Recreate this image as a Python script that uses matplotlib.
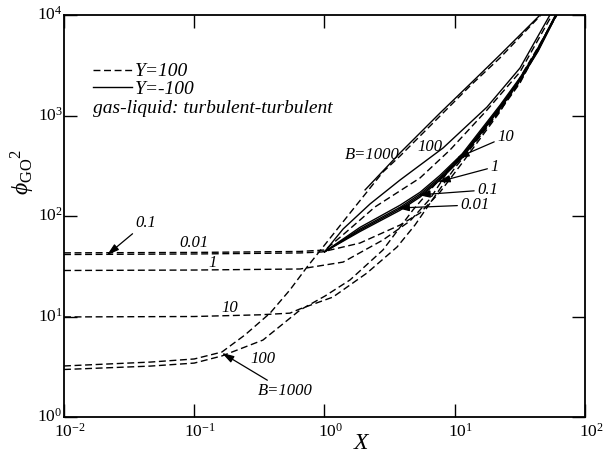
import matplotlib
matplotlib.use('Agg')
import matplotlib.pyplot as plt
import matplotlib.transforms as mtrans

plt.rcParams['font.family'] = 'Liberation Serif'
plt.rcParams['mathtext.fontset'] = 'custom'
plt.rcParams['mathtext.rm'] = 'Liberation Serif'
plt.rcParams['mathtext.it'] = 'Liberation Serif:italic'

# Y = 100 (dashed curves), one per B
x_d001 = [0.01, 0.1, 0.649, 1.01, 1.44, 2.44, 5.41, 9.20, 17.7, 31.7, 55.8]
phi_d001 = [43.0, 43.4, 44.4, 45.9, 67.8, 123, 239, 454, 1135, 2710, 10000]

x_d01 = [0.01, 0.1, 0.649, 0.957, 1.87, 3.80, 5.41, 7.71, 11.4, 22.2, 61.0]
phi_d01 = [41.4, 41.9, 42.9, 43.9, 53.8, 81.3, 107, 173, 337, 1084, 10000]

x_d1 = [0.01, 0.1, 0.649, 1.39, 2.81, 4.53, 6.46, 9.20, 13.1, 22.2, 31.7, 59.9]
phi_d1 = [28.7, 29.0, 29.7, 34.8, 57.7, 89.1, 148, 300, 497, 1161, 2205, 10000]

x_d10 = [0.01, 0.1, 0.320, 0.543, 0.649, 1.16, 2.12, 3.61, 4.95, 7.05, 10.0, 14.3, 22.2, 31.7, 59.9]
phi_d10 = [9.9, 10.0, 10.4, 10.8, 11.9, 15.6, 27.1, 49.2, 81.3, 158, 300, 532, 1135, 2155, 10000]

x_d100 = [0.01, 0.046, 0.1, 0.163, 0.337, 0.649, 1.01, 1.57, 2.81, 4.78, 6.69, 9.53, 14.3, 22.2, 31.7, 59.9]
phi_d100 = [2.97, 3.21, 3.44, 4.05, 5.83, 11.6, 16.0, 23.1, 45.9, 115, 190, 321, 545, 1109, 2106, 10000]

x_d1000 = [0.01, 0.046, 0.1, 0.163, 0.245, 0.382, 0.543, 0.735, 0.975, 1.57, 2.81, 3.80, 7.71, 13.1, 22.2, 45.9]
phi_d1000 = [3.22, 3.52, 3.78, 4.43, 6.55, 10.8, 18.4, 31.1, 49.2, 107, 274, 395, 989, 1968, 3733, 10000]

# Y = -100 (solid curves)
x_bundle = [1.0, 1.87, 3.80, 5.41, 7.71, 11.4, 15.6, 22.2, 31.7, 43.6, 60.0]
phi_s001 = [44, 70, 114, 154, 228, 378, 640, 1170, 2230, 4350, 9800]
phi_s01 = [44, 72, 118, 159, 235, 388, 658, 1195, 2270, 4420, 9900]
phi_s1 = [44, 74, 122, 165, 243, 400, 675, 1225, 2320, 4500, 10100]
phi_s10 = [44, 77, 128, 172, 254, 415, 700, 1260, 2380, 4600, 10300]

x_s100 = [1.0, 1.39, 2.24, 3.80, 8.13, 17.7, 31.7, 53.8]
phi_s100 = [44, 74.3, 132, 228, 475, 1215, 2970, 10000]

x_s1000 = [2.05, 3.80, 7.71, 13.1, 22.2, 45.2]
phi_s1000 = [182, 424, 1059, 2056, 4000, 10000]

xticks = [1e-2, 1e-1, 1e0, 1e1, 1e2]
yticks = [1e0, 1e1, 1e2, 1e3, 1e4]

fig = plt.figure(figsize=(6.13, 4.55), dpi=100)
ax = fig.add_axes([0.1044, 0.0835, 0.8499, 0.8835])

dash = dict(color='k', lw=1.0, ls=(0, (5, 2.6)))
solid = dict(color='k', lw=1.0)

h_dash, = ax.plot(x_d001, phi_d001, **dash)
ax.plot(x_d01, phi_d01, **dash)
ax.plot(x_d1, phi_d1, **dash)
ax.plot(x_d10, phi_d10, **dash)
ax.plot(x_d100, phi_d100, **dash)
ax.plot(x_d1000, phi_d1000, **dash)

h_solid, = ax.plot(x_bundle, phi_s001, **solid)
ax.plot(x_bundle, phi_s01, **solid)
ax.plot(x_bundle, phi_s1, **solid)
ax.plot(x_bundle, phi_s10, **solid)
ax.plot(x_s100, phi_s100, **solid)
ax.plot(x_s1000, phi_s1000, **solid)

ax.set_xscale('log')
ax.set_yscale('log')
ax.set_xlim(1e-2, 1e2)
ax.set_ylim(1e0, 1e4)
ax.set_xticks(xticks)
ax.set_yticks(yticks)
ax.xaxis.set_minor_locator(matplotlib.ticker.NullLocator())
ax.yaxis.set_minor_locator(matplotlib.ticker.NullLocator())
ax.tick_params(which='major', direction='in', length=9.5, width=1.0,
               top=True, right=True, labelsize=12.5)
ax.tick_params(axis='x', pad=4)
ax.tick_params(axis='y', pad=1)
for s in ax.spines.values():
    s.set_linewidth(1.3)

# keep the "10" of each x label over its tick, exponent hanging right
shift_x = mtrans.ScaledTranslation(6 / 100, 0, fig.dpi_scale_trans)
for lab in ax.get_xticklabels():
    lab.set_transform(lab.get_transform() + shift_x)
shift_y = mtrans.ScaledTranslation(0, 2 / 100, fig.dpi_scale_trans)
for lab in ax.get_yticklabels():
    lab.set_transform(lab.get_transform() + shift_y)

ax.set_xlabel('$\\it{X}$', fontsize=17)
ax.xaxis.set_label_coords(0.572, -0.04)
ax.set_ylabel('$\\phi_{\\mathrm{GO}}{}^{2}$', fontsize=17)
ax.yaxis.set_label_coords(-0.052, 0.61)

tfont = dict(family='Liberation Serif', style='italic', size=12)
arr = dict(arrowstyle='-|>,head_length=0.6,head_width=0.18', lw=0.9,
           color='k', shrinkA=0, shrinkB=0)

# left side labels
ax.annotate('0.1', xy=(0.0214, 40.9), xytext=(0.0351, 71.0), ha='left',
            va='bottom', arrowprops=arr, **tfont)
ax.text(0.1, 53.8, '0.01', ha='center', va='center', **tfont)
ax.text(0.139, 34.0, '1', ha='center', va='center', **tfont)
ax.text(0.188, 12.2, '10', ha='center', va='center', **tfont)
ax.text(0.337, 3.78, '100', ha='center', va='center', **tfont)
ax.annotate('B=1000', xy=(0.163, 4.34), xytext=(0.308, 2.18), ha='left',
            va='top', arrowprops=arr, **tfont)

# right side labels
ax.text(2.32, 405, 'B=1000', ha='center', va='center', **tfont)
ax.text(6.46, 486, '100', ha='center', va='center', **tfont)
ax.annotate('10', xy=(10.4, 378), xytext=(21.1, 611), ha='left',
            va='center', arrowprops=arr, **tfont)
ax.annotate('1', xy=(7.43, 218), xytext=(18.7, 308), ha='left',
            va='center', arrowprops=arr, **tfont)
ax.annotate('0.1', xy=(5.22, 162), xytext=(14.8, 182), ha='left',
            va='center', arrowprops=arr, **tfont)
ax.annotate('0.01', xy=(3.61, 120), xytext=(11.0, 129), ha='left',
            va='center', arrowprops=arr, **tfont)

leg = ax.legend([h_dash, h_solid], ['Y=100', 'Y=-100'], loc='upper left',
                bbox_to_anchor=(0.0557, 0.881), frameon=False, borderpad=0,
                borderaxespad=0, handlelength=2.0, handletextpad=0.15,
                labelspacing=0.0,
                prop=dict(family='Liberation Serif', style='italic', size=14))
ax.text(0.0557, 0.756, 'gas-liquid: turbulent-turbulent', transform=ax.transAxes,
        ha='left', va='baseline', family='Liberation Serif', style='italic',
        size=14)

fig.savefig('out.png', dpi=100)
